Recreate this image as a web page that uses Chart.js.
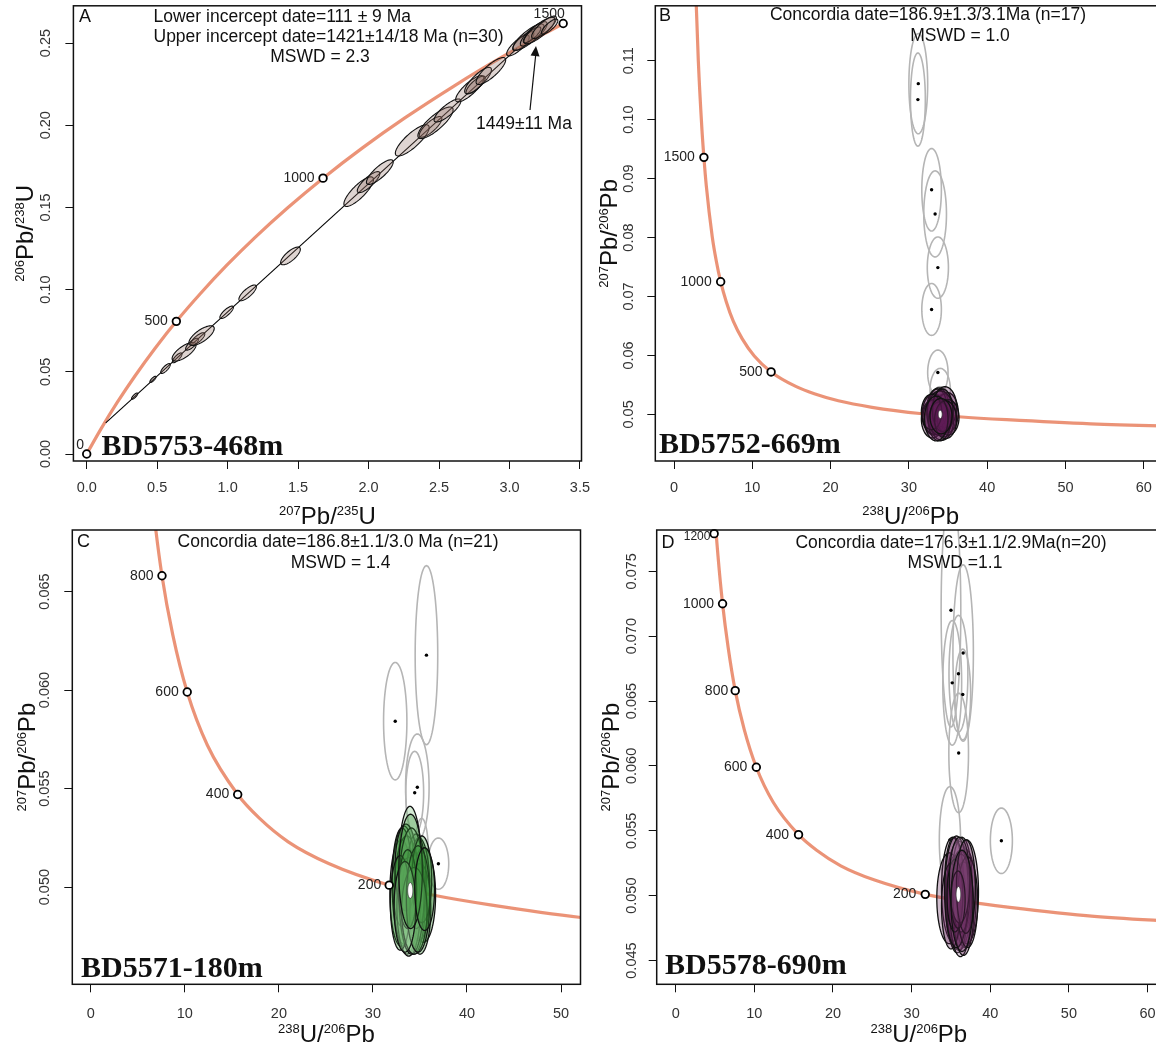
<!DOCTYPE html>
<html>
<head>
<meta charset="utf-8">
<script src="https://cdn.jsdelivr.net/npm/chart.js@4.4.1/dist/chart.umd.min.js"></script>
<style>
html,body{margin:0;padding:0;background:#fff;width:1156px;height:1048px;overflow:hidden;position:relative;}
canvas{position:absolute;}
</style>
</head>
<body>
<canvas id="cA" width="600" height="530" style="left:0px;top:0px"></canvas>
<canvas id="cB" width="620" height="530" style="left:580px;top:0px"></canvas>
<canvas id="cC" width="600" height="528" style="left:0px;top:520px"></canvas>
<canvas id="cD" width="620" height="528" style="left:580px;top:520px"></canvas>
<script>
// ===================== DATA =====================
// ---- Panel A : Wetherill concordia ----
const aCurveX = [0, 0.1035, 0.2177, 0.3438, 0.4828, 0.6362, 0.8057, 0.9926, 1.1988, 1.4264, 1.6774, 1.9546, 2.2603, 2.5977, 2.9701, 3.3813];
const aCurveY = [0, 0.0156, 0.0315, 0.0476, 0.0640, 0.0807, 0.0975, 0.1147, 0.1321, 0.1498, 0.1678, 0.1861, 0.2046, 0.2234, 0.2426, 0.2619];
const aAgeLabels = ['0', '500', '1000', '1500'];
const aAgeX = [0, 0.636, 1.677, 3.381];
const aAgeY = [0, 0.0807, 0.1678, 0.2619];
const aDiscX = [0.135, 3.053];
const aDiscY = [0.0189, 0.2466];
const aEllX  = [0.340, 0.470, 0.559, 0.642, 0.691, 0.747, 0.788, 0.815, 0.993, 1.142, 1.446, 1.930, 2.000, 2.080, 2.310, 2.440, 2.475, 2.560, 2.718, 2.760, 2.777, 2.868, 3.060, 3.098, 3.135, 3.172, 3.160, 3.212, 3.245, 3.285];
const aEllY  = [0.0352, 0.0454, 0.0520, 0.0585, 0.0622, 0.0668, 0.0700, 0.0720, 0.0862, 0.0980, 0.1205, 0.1596, 0.1654, 0.1715, 0.1908, 0.1990, 0.2015, 0.2090, 0.2222, 0.2245, 0.2272, 0.2330, 0.2485, 0.2512, 0.2536, 0.2556, 0.2550, 0.2576, 0.2596, 0.2600];
const aEllSX = [0.022, 0.022, 0.034, 0.034, 0.085, 0.045, 0.050, 0.090, 0.048, 0.062, 0.070, 0.105, 0.080, 0.095, 0.120, 0.080, 0.125, 0.095, 0.100, 0.068, 0.095, 0.105, 0.080, 0.075, 0.110, 0.095, 0.062, 0.110, 0.088, 0.058];
const aEllSY = [0.0019, 0.0019, 0.0030, 0.0030, 0.0057, 0.0036, 0.0038, 0.0060, 0.0038, 0.0048, 0.0054, 0.0090, 0.0064, 0.0075, 0.0095, 0.0063, 0.0096, 0.0070, 0.0080, 0.0054, 0.0080, 0.0082, 0.0063, 0.0057, 0.0080, 0.0074, 0.0048, 0.0080, 0.0068, 0.0046];
const aEllRho = [0.80, 0.80, 0.78, 0.78, 0.72, 0.78, 0.78, 0.72, 0.80, 0.78, 0.75, 0.82, 0.82, 0.82, 0.82, 0.80, 0.82, 0.82, 0.82, 0.80, 0.82, 0.82, 0.80, 0.80, 0.82, 0.82, 0.80, 0.82, 0.82, 0.80];
const aXTicks = [0, 0.5, 1, 1.5, 2, 2.5, 3, 3.5];
const aYTicks = [0, 0.05, 0.10, 0.15, 0.20, 0.25];
const aXTitle = [['207', 1], ['Pb/', 0], ['235', 1], ['U', 0]];
const aYTitle = [['206', 1], ['Pb/', 0], ['238', 1], ['U', 0]];
const aNotes = ['A', 'Lower incercept date=111 ± 9 Ma', 'Upper incercept date=1421±14/18 Ma (n=30)', 'MSWD = 2.3', '1449±11 Ma', 'BD5753-468m'];

// ---- Tera-Wasserburg concordia (panels B, C, D) ----
const twCurveX = [2.749, 3.104, 3.550, 3.818, 4.122, 4.888, 5.375, 5.959, 6.674, 7.568, 8.718, 10.252, 12.40, 15.62, 17.92, 20.99, 25.29, 31.73, 36.34, 42.48, 53.22, 63.96, 71.12];
const twCurveY = [0.1230, 0.1100, 0.0987, 0.0936, 0.0888, 0.0801, 0.0762, 0.0725, 0.0691, 0.0658, 0.0628, 0.0599, 0.0572, 0.0547, 0.0535, 0.0523, 0.0512, 0.0501, 0.0496, 0.0491, 0.0484, 0.0480, 0.0478];
const twXTitle = [['238', 1], ['U/', 0], ['206', 1], ['Pb', 0]];
const twYTitle = [['207', 1], ['Pb/', 0], ['206', 1], ['Pb', 0]];

// ---- Panel B ----
const bAgeLabels = ['1500', '1000', '500'];
const bAgeX = [3.818, 5.959, 12.40];
const bAgeY = [0.0936, 0.0725, 0.0572];
const bRejX  = [31.2, 31.15, 32.9, 33.35, 33.7, 32.9, 33.7, 34.0, 33.97];
const bRejY  = [0.1061, 0.1034, 0.0881, 0.0840, 0.0749, 0.0678, 0.0571, 0.0541, 0.0519];
const bRejSX = [1.2, 0.95, 1.25, 1.45, 1.35, 1.25, 1.3, 1.3, 1.05];
const bRejSY = [0.0085, 0.0079, 0.0070, 0.0073, 0.0052, 0.0044, 0.0038, 0.0037, 0.0028];
const bAccX  = [33.2, 34.5, 33.8, 34.9, 33.0, 34.2, 33.6, 34.6, 33.4, 34.0, 35.0, 33.9, 34.3, 32.9, 34.7, 33.5, 34.1];
const bAccY  = [0.0500, 0.0498, 0.0505, 0.0503, 0.0492, 0.0490, 0.0510, 0.0512, 0.0496, 0.0502, 0.0495, 0.0488, 0.0507, 0.0504, 0.0491, 0.0493, 0.0497];
const bAccSX = [1.5, 1.5, 1.4, 1.4, 1.4, 1.5, 1.3, 1.5, 1.6, 1.7, 1.4, 1.4, 1.3, 1.3, 1.4, 1.5, 1.4];
const bAccSY = [0.0035, 0.0036, 0.0040, 0.0034, 0.0032, 0.0034, 0.0033, 0.0035, 0.0030, 0.0038, 0.0030, 0.0033, 0.0036, 0.0030, 0.0032, 0.0038, 0.0030];
const bConcordia = [34.0, 0.0500, 0.25, 0.0007];
const bXTicks = [0, 10, 20, 30, 40, 50, 60];
const bYTicks = [0.05, 0.06, 0.07, 0.08, 0.09, 0.10, 0.11];
const bNotes = ['B', 'Concordia date=186.9±1.3/3.1Ma (n=17)', 'MSWD = 1.0', 'BD5752-669m'];

// ---- Panel C ----
const cAgeLabels = ['800', '600', '400', '200'];
const cAgeX = [7.568, 10.252, 15.62, 31.73];
const cAgeY = [0.0658, 0.0599, 0.0547, 0.0501];
const cRejX  = [35.69, 32.37, 34.72, 34.44, 36.96, 35.18];
const cRejY  = [0.06177, 0.05842, 0.05507, 0.05479, 0.05119, 0.05176];
const cRejSX = [1.2, 1.24, 1.25, 0.95, 1.1, 0.71];
const cRejSY = [0.00454, 0.00298, 0.0027, 0.0021, 0.0013, 0.00173];
const cAccX  = [33.94, 33.0, 35.36, 33.3, 34.9, 33.6, 34.3, 33.1, 35.0, 33.8, 34.6, 33.5, 34.1, 35.2, 32.9, 34.4, 33.7, 34.8, 33.4, 34.0, 35.5];
const cAccY  = [0.0504, 0.0497, 0.0496, 0.0501, 0.0499, 0.0496, 0.0492, 0.0505, 0.0489, 0.0490, 0.0503, 0.0510, 0.0498, 0.0504, 0.0492, 0.0488, 0.0499, 0.0494, 0.0490, 0.0508, 0.0499];
const cAccSX = [1.3, 1.2, 1.3, 1.25, 1.15, 1.35, 1.25, 1.05, 1.15, 1.25, 1.05, 1.15, 1.35, 1.05, 1.05, 1.35, 0.95, 1.25, 1.15, 1.25, 1.05];
const cAccSY = [0.0037, 0.0027, 0.0024, 0.0030, 0.0026, 0.0030, 0.0026, 0.0025, 0.0023, 0.0025, 0.0024, 0.0022, 0.0032, 0.0022, 0.0024, 0.0022, 0.0020, 0.0027, 0.0023, 0.0029, 0.0021];
const cConcordia = [33.97, 0.04983, 0.28, 0.0004];
const cXTicks = [0, 10, 20, 30, 40, 50];
const cYTicks = [0.050, 0.055, 0.060, 0.065];
const cNotes = ['C', 'Concordia date=186.8±1.1/3.0 Ma (n=21)', 'MSWD = 1.4', 'BD5571-180m'];

// ---- Panel D ----
const dAgeLabels = ['1200', '1000', '800', '600', '400', '200'];
const dAgeX = [4.888, 5.959, 7.568, 10.252, 15.62, 31.73];
const dAgeY = [0.0779, 0.0725, 0.0658, 0.0599, 0.0547, 0.0501];
const dRejX  = [35.0, 36.55, 35.95, 35.16, 36.5, 35.98, 34.87, 41.41];
const dRejY  = [0.0720, 0.0687, 0.0671, 0.0664, 0.0655, 0.0610, 0.0543, 0.05423];
const dRejSX = [1.25, 1.3, 1.2, 1.2, 1.0, 1.25, 1.35, 1.4];
const dRejSY = [0.0090, 0.0068, 0.0045, 0.0048, 0.0035, 0.0046, 0.0041, 0.00252];
const dAccX  = [35.2, 36.0, 36.8, 35.6, 36.4, 34.8, 37.0, 35.8, 36.2, 35.4, 36.6, 35.0, 36.3, 35.7, 37.1, 35.5, 36.1, 36.9, 35.9, 36.4];
const dAccY  = [0.0505, 0.0500, 0.0498, 0.0495, 0.0508, 0.0498, 0.0503, 0.0490, 0.0494, 0.0510, 0.0490, 0.0492, 0.0502, 0.0503, 0.0495, 0.0500, 0.0512, 0.0507, 0.0497, 0.0496];
const dAccSX = [1.4, 1.6, 1.4, 1.3, 1.3, 1.6, 1.5, 1.3, 1.4, 1.2, 1.3, 1.2, 1.1, 1.5, 1.3, 1.0, 1.3, 1.2, 0.9, 1.4];
const dAccSY = [0.0040, 0.0042, 0.0038, 0.0036, 0.0037, 0.0035, 0.0040, 0.0034, 0.0041, 0.0035, 0.0036, 0.0033, 0.0030, 0.0043, 0.0035, 0.0028, 0.0033, 0.0036, 0.0022, 0.0039];
const dConcordia = [35.95, 0.0501, 0.3, 0.0006];
const dXTicks = [0, 10, 20, 30, 40, 50, 60];
const dYTicks = [0.045, 0.050, 0.055, 0.060, 0.065, 0.070, 0.075];
const dNotes = ['D', 'Concordia date=176.3±1.1/2.9Ma(n=20)', 'MSWD =1.1', 'BD5578-690m'];

// ===================== STYLE / LAYOUT =====================
const SANS = "'Liberation Sans', Arial, Helvetica, sans-serif";
const SERIF = "'Liberation Serif', 'Times New Roman', serif";
const CURVE_COLOR = 'rgba(233,135,104,0.9)';
Chart.defaults.font.family = SANS;
Chart.defaults.color = '#222';

const LAYOUT = {
  A: { padT: 5, padR: 18.5, yW: 73.4, xH: 69, xTickPad: 10, yTickPad: 5.3, xTitleC: 515, yTitleC: 24,
       xMin: -0.0944, xMax: 3.511, yMin: -0.00425, yMax: 0.27266, xDec: 1, yDec: 2,
       ageOff: [[-6.5, -9, 'center'], [-8.6, 0, 'right'], [-8.5, 0, 'right'], [-14, -9.6, 'center']], ageFont: [14, 14, 14, 14],
       notes: [[79, 17, 'left', 'n'], [153.5, 17, 'left', 't'], [153.5, 37.5, 'left', 't'], [320, 57.5, 'center', 't'], [476, 124, 'left', 't'], [101.6, 447, 'left', 's']],
       arrow: [530, 110, 536, 46] },
  B: { padT: 5, padR: 34, yW: 75.3, xH: 69, xTickPad: 10, yTickPad: 3.7, xTitleC: 515, yTitleC: 28,
       xMin: -2.39, xMax: 62.84, yMin: 0.04209, yMax: 0.11931, xDec: 0, yDec: 2,
       ageOff: [[-9, 0, 'right'], [-9, 0, 'right'], [-8.5, 0, 'right']], ageFont: [14, 14, 14],
       notes: [[79, 16, 'left', 'n'], [348, 15.5, 'center', 't'], [380, 36.5, 'center', 't'], [79, 445, 'left', 's']] },
  C: { padT: 10, padR: 19.5, yW: 72.3, xH: 63.7, xTickPad: 12.6, yTickPad: 0.8, xTitleC: 513, yTitleC: 26,
       xMin: -1.967, xMax: 52.07, yMin: 0.04507, yMax: 0.06812, xDec: 0, yDec: 3,
       ageOff: [[-8.5, 0, 'right'], [-8.5, 0, 'right'], [-8.5, 0, 'right'], [-8, 0, 'right']], ageFont: [14, 14, 14, 14],
       notes: [[77, 22, 'left', 'n'], [338, 22, 'center', 't'], [340.6, 43, 'center', 't'], [81, 449, 'left', 's']] },
  D: { padT: 10, padR: 19, yW: 76.7, xH: 63.7, xTickPad: 12.6, yTickPad: -1.2, xTitleC: 513, yTitleC: 30,
       xMin: -2.416, xMax: 64.25, yMin: 0.04317, yMax: 0.07818, xDec: 0, yDec: 3,
       ageOff: [[-3.7, 3, 'right'], [-8.5, 0, 'right'], [-7, 0, 'right'], [-9, 0, 'right'], [-9.5, 0, 'right'], [-9, 0, 'right']], ageFont: [12, 14, 14, 14, 14, 14],
       notes: [[81.6, 23.5, 'left', 'n'], [371, 23.5, 'center', 't'], [375, 43.6, 'center', 't'], [85, 446, 'left', 's']] }
};

// ===================== DRAWING =====================
function pts(xs, ys) { return xs.map((x, i) => ({ x: x, y: ys[i] })); }

function ellipsePath(ctx, xs, ys, cx, cy, ax, ay, rho) {
  const r = Math.sqrt(1 - rho * rho);
  ctx.beginPath();
  for (let k = 0; k <= 96; k++) {
    const t = 2 * Math.PI * k / 96;
    const X = cx + ax * Math.cos(t);
    const Y = cy + ay * (rho * Math.cos(t) + r * Math.sin(t));
    const px = xs.getPixelForValue(X), py = ys.getPixelForValue(Y);
    if (k === 0) ctx.moveTo(px, py); else ctx.lineTo(px, py);
  }
  ctx.closePath();
}

// axis title with superscript mass numbers, centred at (cx, cy)
function drawRichTitle(ctx, segs, cx, cy, vertical) {
  const MAIN = '24px ' + SANS, SUP = '13px ' + SANS;
  ctx.save();
  ctx.translate(cx, cy);
  if (vertical) ctx.rotate(-Math.PI / 2);
  let total = 0;
  const w = segs.map(s => { ctx.font = s[1] ? SUP : MAIN; const m = ctx.measureText(s[0]).width; total += m; return m; });
  let x = -total / 2;
  const base = 8.6;
  ctx.fillStyle = '#111'; ctx.textAlign = 'left'; ctx.textBaseline = 'alphabetic';
  segs.forEach((s, i) => {
    ctx.font = s[1] ? SUP : MAIN;
    ctx.fillText(s[0], x, s[1] ? base - 8.2 : base);
    x += w[i];
  });
  ctx.restore();
}

function makePanel(id, P, L) {
  const datasets = [{
    label: 'ages', data: pts(P.ageX, P.ageY), showLine: false,
    pointRadius: 3.8, pointBorderWidth: 1.8, pointBackgroundColor: '#fff', pointBorderColor: '#000', clip: false
  }];
  if (P.discX) datasets.push({ label: 'discordia', data: pts(P.discX, P.discY), showLine: true,
    borderColor: '#000', borderWidth: 1.1, pointRadius: 0, clip: 0 });
  datasets.push({ label: 'concordia', data: pts(P.curveX, P.curveY), showLine: true,
    borderColor: CURVE_COLOR, borderWidth: 3.2, pointRadius: 0, cubicInterpolationMode: 'monotone', clip: 0 });

  const ellPlugin = {
    id: 'ell' + id,
    beforeDatasetDraw(chart, args) {
      if (args.index !== 0) return;
      const ctx = chart.ctx, a = chart.chartArea, xs = chart.scales.x, ys = chart.scales.y;
      ctx.save();
      ctx.beginPath(); ctx.rect(a.left, a.top, a.right - a.left, a.bottom - a.top); ctx.clip();
      P.groups.forEach(g => {
        for (let i = 0; i < g.x.length; i++) {
          ellipsePath(ctx, xs, ys, g.x[i], g.y[i], g.sx[i], g.sy[i], g.rho ? g.rho[i] : 0);
          if (g.fill) { ctx.fillStyle = typeof g.fill === 'function' ? g.fill(i) : g.fill; ctx.fill(); }
          ctx.lineWidth = g.lw; ctx.strokeStyle = g.stroke; ctx.stroke();
        }
        if (g.dots) {
          ctx.fillStyle = '#000';
          for (let i = 0; i < g.x.length; i++) {
            ctx.beginPath();
            ctx.arc(xs.getPixelForValue(g.x[i]), ys.getPixelForValue(g.y[i]), 1.7, 0, 2 * Math.PI);
            ctx.fill();
          }
        }
      });
      ctx.restore();
    }
  };

  const decoPlugin = {
    id: 'deco' + id,
    afterDraw(chart) {
      const ctx = chart.ctx, a = chart.chartArea;
      ctx.save();
      ctx.lineWidth = 1.5; ctx.strokeStyle = '#111';
      ctx.strokeRect(a.left, a.top, a.right - a.left, a.bottom - a.top);
      // axis titles
      drawRichTitle(ctx, P.xTitle, (a.left + a.right) / 2, L.xTitleC, false);
      drawRichTitle(ctx, P.yTitle, L.yTitleC, (a.top + a.bottom) / 2, true);
      // concordia age labels, anchored to the age markers
      const meta = chart.getDatasetMeta(0);
      ctx.fillStyle = '#222'; ctx.textBaseline = 'middle';
      meta.data.forEach((pt, i) => {
        const o = L.ageOff[i];
        ctx.font = L.ageFont[i] + 'px ' + SANS;
        ctx.textAlign = o[2];
        ctx.fillText(P.ageLabels[i], pt.x + o[0], pt.y + o[1]);
      });
      // notes
      P.notes.forEach((t, i) => {
        const n = L.notes[i];
        if (n[3] === 's') ctx.font = 'bold 30px ' + SERIF;
        else if (n[3] === 'n') ctx.font = '18px ' + SANS;
        else ctx.font = '17.5px ' + SANS;
        ctx.fillStyle = '#111'; ctx.textAlign = n[2]; ctx.textBaseline = 'middle';
        ctx.fillText(t, n[0], n[1]);
      });
      if (L.arrow) {
        const [x1, y1, x2, y2] = L.arrow;
        ctx.strokeStyle = '#111'; ctx.lineWidth = 1.2;
        ctx.beginPath(); ctx.moveTo(x1, y1); ctx.lineTo(x2, y2 + 6); ctx.stroke();
        const ang = Math.atan2(y2 - y1, x2 - x1);
        ctx.fillStyle = '#111';
        ctx.beginPath();
        ctx.moveTo(x2, y2);
        ctx.lineTo(x2 - 10 * Math.cos(ang) + 4.5 * Math.sin(ang), y2 - 10 * Math.sin(ang) - 4.5 * Math.cos(ang));
        ctx.lineTo(x2 - 10 * Math.cos(ang) - 4.5 * Math.sin(ang), y2 - 10 * Math.sin(ang) + 4.5 * Math.cos(ang));
        ctx.closePath(); ctx.fill();
      }
      ctx.restore();
    }
  };

  const grid = { display: true, drawOnChartArea: false, drawTicks: true, tickLength: 8, color: '#111', lineWidth: 1 };
  new Chart(document.getElementById(id), {
    type: 'scatter',
    data: { datasets: datasets },
    options: {
      responsive: false, animation: false, devicePixelRatio: 1, events: [],
      layout: { padding: { left: 0, top: L.padT, right: L.padR, bottom: 0 } },
      plugins: { legend: { display: false }, tooltip: { enabled: false }, title: { display: false } },
      scales: {
        x: {
          type: 'linear', position: 'bottom', min: L.xMin, max: L.xMax, bounds: 'data',
          afterBuildTicks: s => { s.ticks = P.xTicks.map(v => ({ value: v })); },
          afterFit: s => { s.height = L.xH; s.paddingLeft = 0; s.paddingRight = 0; s.paddingTop = 0; s.paddingBottom = 0; },
          ticks: { callback: v => Number(v).toFixed(L.xDec), font: { size: 14.5 }, color: '#333', padding: L.xTickPad, maxRotation: 0, minRotation: 0, autoSkip: false },
          grid: grid, border: { display: false },
          title: { display: false }
        },
        y: {
          type: 'linear', position: 'left', min: L.yMin, max: L.yMax, bounds: 'data',
          afterBuildTicks: s => { s.ticks = P.yTicks.map(v => ({ value: v })); },
          afterFit: s => { s.width = L.yW; s.paddingLeft = 0; s.paddingRight = 0; s.paddingTop = 0; s.paddingBottom = 0; },
          ticks: { callback: v => Number(v).toFixed(L.yDec), font: { size: 14.5 }, color: '#333', padding: L.yTickPad, minRotation: 90, maxRotation: 90, crossAlign: 'center', autoSkip: false },
          grid: grid, border: { display: false },
          title: { display: false }
        }
      }
    },
    plugins: [ellPlugin, decoPlugin]
  });
}

const REJ = { fill: null, stroke: '#b5b5b5', lw: 1.6, dots: true };
const CONC = { fill: '#ffffff', stroke: '#333', lw: 0.8 };

makePanel('cA', {
  curveX: aCurveX, curveY: aCurveY, ageX: aAgeX, ageY: aAgeY, ageLabels: aAgeLabels,
  discX: aDiscX, discY: aDiscY, xTicks: aXTicks, yTicks: aYTicks, notes: aNotes,
  xTitle: aXTitle, yTitle: aYTitle,
  groups: [{ x: aEllX, y: aEllY, sx: aEllSX, sy: aEllSY, rho: aEllRho, fill: 'rgba(135,100,90,0.28)', stroke: '#111', lw: 1.1 }]
}, LAYOUT.A);

makePanel('cB', {
  curveX: twCurveX, curveY: twCurveY, ageX: bAgeX, ageY: bAgeY, ageLabels: bAgeLabels,
  xTicks: bXTicks, yTicks: bYTicks, notes: bNotes, xTitle: twXTitle, yTitle: twYTitle,
  groups: [
    Object.assign({ x: bRejX, y: bRejY, sx: bRejSX, sy: bRejSY }, REJ),
    { x: bAccX, y: bAccY, sx: bAccSX, sy: bAccSY, fill: 'rgba(95,28,85,0.33)', stroke: '#111', lw: 1.4 },
    Object.assign({ x: [bConcordia[0]], y: [bConcordia[1]], sx: [bConcordia[2]], sy: [bConcordia[3]] }, CONC)
  ]
}, LAYOUT.B);

makePanel('cC', {
  curveX: twCurveX, curveY: twCurveY, ageX: cAgeX, ageY: cAgeY, ageLabels: cAgeLabels,
  xTicks: cXTicks, yTicks: cYTicks, notes: cNotes, xTitle: twXTitle, yTitle: twYTitle,
  groups: [
    Object.assign({ x: cRejX, y: cRejY, sx: cRejSX, sy: cRejSY }, REJ),
    { x: cAccX, y: cAccY, sx: cAccSX, sy: cAccSY, fill: i => (i % 3 === 0 ? 'rgba(150,205,150,0.4)' : 'rgba(50,140,50,0.34)'), stroke: '#111', lw: 1.3 },
    Object.assign({ x: [cConcordia[0]], y: [cConcordia[1]], sx: [cConcordia[2]], sy: [cConcordia[3]] }, CONC)
  ]
}, LAYOUT.C);

makePanel('cD', {
  curveX: twCurveX, curveY: twCurveY, ageX: dAgeX, ageY: dAgeY, ageLabels: dAgeLabels,
  xTicks: dXTicks, yTicks: dYTicks, notes: dNotes, xTitle: twXTitle, yTitle: twYTitle,
  groups: [
    Object.assign({ x: dRejX, y: dRejY, sx: dRejSX, sy: dRejSY }, REJ),
    { x: dAccX, y: dAccY, sx: dAccSX, sy: dAccSY, fill: i => (i % 4 === 0 ? 'rgba(175,130,170,0.35)' : 'rgba(100,35,90,0.30)'), stroke: '#111', lw: 1.3 },
    Object.assign({ x: [dConcordia[0]], y: [dConcordia[1]], sx: [dConcordia[2]], sy: [dConcordia[3]] }, CONC)
  ]
}, LAYOUT.D);
</script>
</body>
</html>
